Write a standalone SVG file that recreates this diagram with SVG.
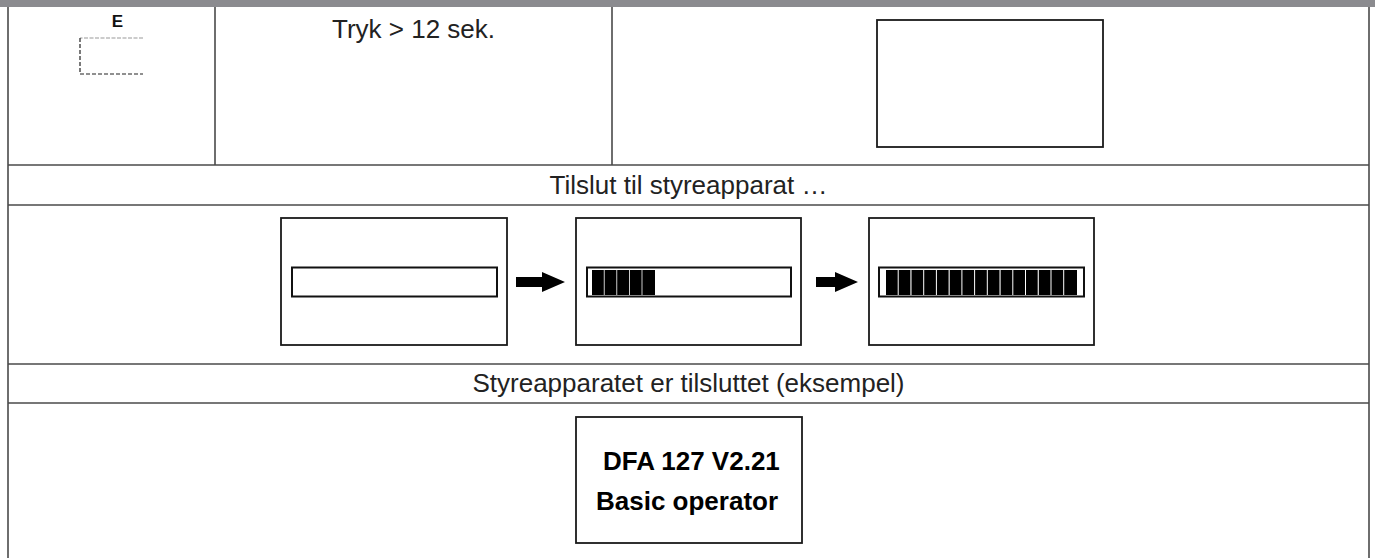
<svg xmlns="http://www.w3.org/2000/svg" width="1375" height="558" viewBox="0 0 1375 558">
<style>
.grid{stroke:#4a4a4a;stroke-width:1.6;fill:none}
.box{fill:#fff;stroke:#1a1a1a;stroke-width:1.8}
.bar{fill:#fff;stroke:#111;stroke-width:2}
.blk{fill:#000}
.t{font-family:"Liberation Sans",Arial,sans-serif;font-size:26px;fill:#222}
.b{font-family:"Liberation Sans",Arial,sans-serif;font-size:26px;font-weight:bold;fill:#000}
.arrow{fill:#000}
</style>
<rect x="0" y="0" width="1375" height="558" fill="#fff"/>
<g id="table">
<rect x="0" y="0" width="1375" height="7" fill="#8b8b8f"/>
<line class="grid" x1="8" y1="7" x2="8" y2="558"/>
<line class="grid" x1="1369" y1="7" x2="1369" y2="558"/>
<line class="grid" x1="215" y1="7" x2="215" y2="165"/>
<line class="grid" x1="612" y1="7" x2="612" y2="165"/>
<line class="grid" x1="8" y1="165" x2="1369" y2="165"/>
<line class="grid" x1="8" y1="205" x2="1369" y2="205"/>
<line class="grid" x1="8" y1="364" x2="1369" y2="364"/>
<line class="grid" x1="8" y1="403" x2="1369" y2="403"/>
</g>
<g id="key-e">
<text x="117.5" y="27" text-anchor="middle" font-family="Liberation Sans,Arial,sans-serif" font-size="17" font-weight="bold" fill="#111">E</text>
<path d="M143,38 H80" stroke="#999" stroke-width="1.2" stroke-dasharray="4 1.5" fill="none"/>
<path d="M80,38 V74 H143" stroke="#222" stroke-width="1.2" stroke-dasharray="4 2" fill="none"/>
</g>
<g id="press-text">
<text class="t" x="413.5" y="38" text-anchor="middle">Tryk &gt; 12 sek.</text>
</g>
<g id="display-blank">
<rect class="box" x="877" y="20" width="226" height="127"/>
</g>
<g id="row-connect">
<text class="t" x="688.5" y="194" text-anchor="middle">Tilslut til styreapparat …</text>
</g>
<g id="display-0">
<rect class="box" x="281" y="218" width="226" height="127"/>
<rect class="bar" x="292" y="267.5" width="205" height="29"/>
</g>
<g id="display-1">
<rect class="box" x="576" y="218" width="225" height="127"/>
<rect class="bar" x="587" y="267.5" width="204" height="29"/>
<rect class="blk" x="592" y="270" width="11.8" height="25"/>
<rect class="blk" x="604.6" y="270" width="11.8" height="25"/>
<rect class="blk" x="617.2" y="270" width="11.8" height="25"/>
<rect class="blk" x="629.8" y="270" width="11.8" height="25"/>
<rect class="blk" x="642.4" y="270" width="12.6" height="25"/>
</g>
<g id="display-2">
<rect class="box" x="869" y="218" width="225" height="127"/>
<rect class="bar" x="879" y="267.5" width="205" height="29"/>
<rect class="blk" x="886" y="270" width="11.7" height="25"/>
<rect class="blk" x="898.7" y="270" width="11.7" height="25"/>
<rect class="blk" x="911.5" y="270" width="11.7" height="25"/>
<rect class="blk" x="924.2" y="270" width="11.7" height="25"/>
<rect class="blk" x="936.9" y="270" width="11.7" height="25"/>
<rect class="blk" x="949.7" y="270" width="11.7" height="25"/>
<rect class="blk" x="962.4" y="270" width="11.7" height="25"/>
<rect class="blk" x="975.1" y="270" width="11.7" height="25"/>
<rect class="blk" x="987.8" y="270" width="11.7" height="25"/>
<rect class="blk" x="1000.6" y="270" width="11.7" height="25"/>
<rect class="blk" x="1013.3" y="270" width="11.7" height="25"/>
<rect class="blk" x="1026" y="270" width="11.7" height="25"/>
<rect class="blk" x="1038.8" y="270" width="11.7" height="25"/>
<rect class="blk" x="1051.5" y="270" width="11.7" height="25"/>
<rect class="blk" x="1064.2" y="270" width="12.8" height="25"/>
</g>
<g id="connectors">
<polygon class="arrow" points="516,277 542,277 542,272 565,282 542,292 542,287 516,287"/>
<polygon class="arrow" points="816,277 835,277 835,272 858,282 835,292 835,287 816,287"/>
</g>
<g id="row-connected">
<text class="t" x="688.5" y="392" text-anchor="middle">Styreapparatet er tilsluttet (eksempel)</text>
</g>
<g id="display-connected">
<rect class="box" x="576" y="417" width="226" height="126"/>
<text class="b" x="603" y="470">DFA 127 V2.21</text>
<text class="b" x="596" y="510">Basic operator</text>
</g>
</svg>
